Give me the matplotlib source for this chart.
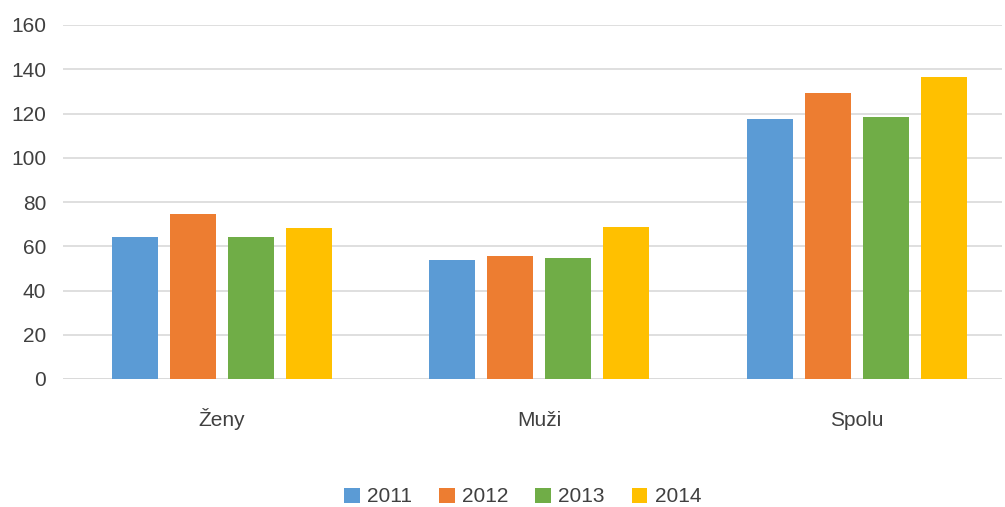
import numpy as np
import matplotlib.pyplot as plt
from matplotlib.patches import Patch

plt.rcParams['font.family'] = ['Liberation Sans', 'DejaVu Sans']

categories = ['Ženy', 'Muži', 'Spolu']
years = ['2011', '2012', '2013', '2014']
v2011 = [64.4, 53.7, 117.6]
v2012 = [74.8, 55.5, 129.4]
v2013 = [64.4, 54.6, 118.5]
v2014 = [68.4, 68.6, 136.6]
colors = ['#5B9BD5', '#ED7D31', '#70AD47', '#FFC000']
series = [v2011, v2012, v2013, v2014]

fig = plt.figure(figsize=(10.05, 5.07), dpi=100)
ax = fig.add_axes([63 / 1005, 1 - 379 / 507, (1002 - 63) / 1005, (379 - 25) / 507])

x = np.arange(len(categories))
step = 58 / 317.5
width = 46 / 317.5
for i, (vals, c) in enumerate(zip(series, colors)):
    ax.bar(x + (i - 1.5) * step, vals, width, color=c, zorder=3)

ax.set_xlim(-0.5, 2.457)
ax.set_ylim(0, 160)
ax.set_yticks(range(0, 161, 20))
ax.set_xticks(x)
ax.set_xticklabels(categories, va='baseline')
ax.yaxis.grid(True, color='#D9D9D9', linewidth=1.2, zorder=0)
for s in ['top', 'right', 'left', 'bottom']:
    ax.spines[s].set_visible(False)
ax.axhline(0, color='#D9D9D9', linewidth=1.2, zorder=2)
ax.tick_params(axis='both', length=0, labelsize=15, labelcolor='#404040')
ax.tick_params(axis='y', pad=12)
ax.tick_params(axis='x', pad=34)

handles = [Patch(facecolor=c, label=y) for c, y in zip(colors, years)]
fig.legend(handles=handles, loc='center', bbox_to_anchor=(0.52, 1 - 497 / 507),
           ncol=4, frameon=False, fontsize=15, labelcolor='#404040',
           handlelength=0.75, handleheight=0.75, handletextpad=0.35, columnspacing=1.3)

fig.savefig('out.png', dpi=100)
